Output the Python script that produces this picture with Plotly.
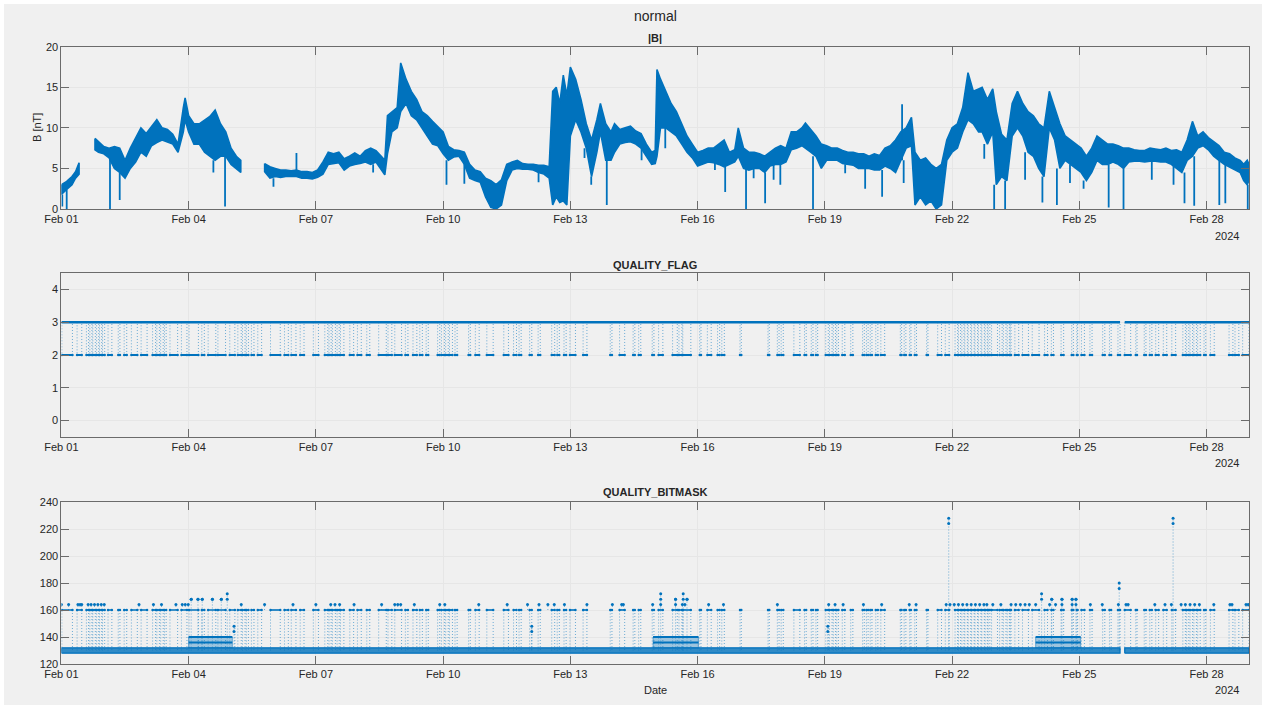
import plotly.graph_objects as go
import pandas as pd

BASE = pd.Timestamp("2024-02-01")

# ---------------- |B| (hours since 2024-02-01 00:00, envelope) -------------
b_hours = [0, 3, 6, 8, 10, 12,
           19, 21, 24, 27, 30, 33, 36, 39, 42, 45, 48, 51, 54, 57, 60, 63, 66, 69, 70, 72, 75, 78, 81, 84, 87, 90, 93, 96, 99, 101.5, 108,
           115, 118, 121, 124, 127, 130, 133, 136, 139, 142, 145, 148, 151, 154, 157, 160, 163, 166, 169, 172, 175, 178, 181, 183,
           184.5, 187, 190, 192, 195, 198, 201, 204, 207, 210, 213, 216, 219, 222, 225, 228, 231, 234, 237, 240, 243, 246, 249, 252, 255, 258, 261, 264, 267, 270, 273, 276,
           278, 280, 282, 284, 286, 288, 291, 294, 297, 300, 303, 305, 308, 311, 313, 316, 319, 322, 325, 328, 331, 334, 336,
           337, 339, 342, 345, 348, 351, 354, 357, 360, 363, 366, 369, 372, 375, 378, 381, 383, 386, 389, 392, 395, 398, 401, 404, 407, 410, 413, 416, 419, 421, 424, 427, 430, 433, 436, 439, 442, 445, 448, 451, 454, 457, 460, 463, 466, 469, 472, 475, 478, 481,
           483, 486, 489, 492, 495, 498, 501, 504, 507, 510, 513, 516, 519, 521, 524, 527, 529, 532, 535, 538, 541, 544, 547, 550, 553, 556, 559, 562, 565, 568, 571, 574, 577, 580, 583, 586, 589, 592, 595, 598, 601, 604, 607, 610, 613, 616, 619, 622, 625, 628, 631, 634, 637, 640, 643, 646, 649, 652, 655, 658, 661, 664, 667, 669, 671, 672]
b_high = [3.0, 3.4, 4.0, 4.6, 5.7, None,
          8.7, 8.3, 7.7, 7.5, 7.7, 7.5, 6.0, 7.5, 8.8, 10.0, 9.3, 10.2, 11.0, 10.0, 9.8, 9.2, 8.0, 12.5, 13.7, 11.5, 10.5, 10.5, 11.0, 11.4, 12.2, 10.5, 9.5, 7.5, 6.5, 6.0, None,
          5.6, 5.2, 5.0, 4.8, 4.8, 4.7, 4.8, 4.6, 4.6, 4.5, 4.8, 5.8, 7.0, 6.8, 7.0, 6.2, 6.5, 6.9, 6.5, 7.2, 7.5, 7.2, 6.5, 6.0,
          11.5, 12.0, 12.5, 18.0, 16.0, 14.5, 13.5, 12.0, 11.5, 10.8, 10.2, 9.5, 7.7, 7.3, 7.2, 7.0, 5.5, 4.8, 4.6, 3.8, 3.5, 3.0, 3.6, 5.5, 5.8, 6.0, 5.6, 5.5, 5.5, 5.4, 5.4, 5.2,
          14.5, 15.0, 13.0, 16.5, 14.0, 17.5, 16.0, 13.5, 10.5, 8.5, 11.0, 13.0, 10.5, 9.5, 10.5, 9.8, 10.0, 10.2, 9.6, 9.3, 8.0, 7.0, 7.2,
          17.2, 16.0, 14.5, 13.0, 12.0, 10.5, 9.0, 8.0, 7.0, 7.2, 7.5, 7.5, 8.0, 8.5, 7.0, 7.3, 10.0, 7.5, 7.0, 7.0, 6.8, 6.5, 7.0, 7.5, 7.8, 7.5, 9.5, 9.5, 10.0, 10.6, 9.8, 9.0, 8.0, 7.8, 7.5, 7.5, 7.2, 7.0, 7.0, 6.8, 6.8, 6.5, 6.8, 6.6, 7.5, 7.8, 8.5, 9.5, 10.0, 11.3,
          7.0, 6.0, 6.3, 5.5, 5.0, 5.5, 8.5, 10.0, 10.5, 12.5, 16.8, 14.5, 14.8, 15.0, 13.5, 14.8, 12.0, 9.2, 8.5, 13.0, 14.5, 13.0, 12.0, 11.5, 10.5, 10.0, 14.5, 12.5, 10.5, 9.0, 8.5, 8.0, 7.5, 6.5, 7.5, 9.0, 8.5, 8.0, 8.0, 7.8, 7.5, 7.5, 7.3, 7.2, 7.2, 7.5, 7.4, 7.3, 7.5, 7.2, 7.3, 7.0, 8.5, 10.8, 9.0, 9.5, 8.8, 8.3, 7.8, 7.0, 6.8, 6.3, 6.0, 5.5, 6.0, 5.5]
b_low = [1.8, 2.4, 3.0, 3.8, 4.3, None,
         7.3, 7.0, 6.8, 6.3, 5.0, 4.5, 3.8, 5.0, 5.8, 7.0, 6.5, 7.8, 8.2, 8.5, 8.3, 8.0, 7.0, 9.5, 11.0, 9.5, 8.0, 8.0, 7.0, 6.5, 6.0, 6.5, 6.5, 5.5, 5.0, 4.5, None,
         4.6, 3.8, 4.0, 3.9, 4.0, 4.0, 4.0, 3.8, 3.8, 3.7, 3.9, 4.3, 5.5, 5.6, 5.7, 4.8, 5.3, 5.5, 5.6, 5.8, 5.5, 5.8, 4.8, 4.2,
         6.8, 9.5, 10.0, 12.0, 13.0, 11.5, 11.0, 10.0, 9.0, 8.0, 7.8, 6.8, 6.0, 6.4, 6.5, 5.5, 3.8, 3.5, 3.3, 1.5, 0.2, 0.0, 0.5, 3.5, 4.8, 5.0, 4.9, 4.9, 4.8, 4.5, 4.3, 3.8,
         0.5, 1.5, 0.8, 1.0, 0.5, 9.0, 11.0, 9.5, 7.5, 4.0, 7.0, 9.5, 6.0, 6.0, 7.0, 8.0, 8.2, 8.3, 8.0, 7.5, 6.5, 5.5, 5.6,
         6.5, 10.0, 10.0, 9.5, 9.0, 8.0, 7.0, 6.3, 5.3, 5.5, 5.8, 5.7, 5.5, 5.2, 5.5, 5.8, 6.5, 5.0, 4.8, 5.0, 5.0, 4.5, 5.3, 5.5, 5.5, 5.8, 7.3, 7.5, 7.8, 7.5, 7.0, 6.5, 5.0, 6.0, 6.0, 6.0, 5.6, 5.5, 5.4, 5.0, 5.0, 5.0, 4.8, 4.8, 5.3, 5.0, 4.5, 6.0, 7.5, 7.8,
         0.5, 1.5, 0.5, 1.0, 0.0, 0.5, 6.0, 7.0, 7.5, 9.5, 11.0, 10.5, 9.5, 9.5, 8.0, 9.5, 3.0, 4.0, 3.5, 9.0, 10.0, 9.0, 7.0, 6.5, 5.0, 4.0, 10.0, 8.5, 5.0, 6.0, 5.5, 5.0, 4.5, 3.5, 4.5, 6.0, 5.5, 5.5, 5.8, 5.5, 5.0, 5.8, 5.9, 5.9, 5.8, 5.9, 5.9, 5.8, 5.8, 5.5, 5.0, 4.5, 6.0, 6.5, 7.5, 7.8, 7.3, 6.5, 6.0, 5.5, 5.2, 4.8, 4.5, 3.5, 3.0, 3.5]

# narrow excursions (dips / spikes) of |B|
spike_hours = [0.5, 3, 27.5, 33, 86, 92.6, 120, 133, 176.4, 217.9,
               228, 270, 296, 299.8, 308.6, 328.3, 341.7, 369.8, 375.6, 387.4,
               391.7, 398.2, 403, 406.8, 425.3, 443.5, 454.8, 464.4, 475.7, 476.6,
               522.2, 527.8, 534, 545.3, 555.1, 563.3, 570.7, 578.4, 592.6, 601,
               617, 629.3, 635.5, 641, 655.2, 658.6, 671.3]
spike_from = [1.8, 2.4, 6.3, 4.5, 6.0, 6.5, 3.8, 4.8, 5.5, 6.0,
              5.5, 4.5, 7.5, 4.0, 6.0, 7.5, 10.0, 5.7, 5.2, 5.0,
              5.0, 4.5, 5.5, 5.5, 6.5, 5.5, 5.0, 4.8, 6.0, 6.0,
              8.0, 3.0, 3.5, 7.0, 4.0, 5.0, 5.5, 3.5, 5.5, 5.0,
              5.9, 5.5, 4.5, 6.5, 6.0, 5.5, 3.0]
spike_to = [0.3, 0.0, 0.0, 1.1, 4.5, 0.3, 2.75, 6.9, 4.5, 3.0,
            3.1, 3.3, 6.3, 3.0, 0.5, 6.0, 7.5, 4.8, 2.1, 0.0,
            3.8, 0.7, 3.6, 3.0, 0.0, 4.4, 2.5, 1.5, 12.9, 3.2,
            6.2, 0.0, 0.0, 3.6, 0.8, 0.5, 3.2, 2.5, 0.2, 0.0,
            3.6, 3.0, 0.7, 0.4, 0.5, 0.7, 0.0]

# ---------------- QUALITY_FLAG (days since 2024-02-01) -------------
coverage_start = [0.0, 25.07]
coverage_end = [24.96, 28.0]
flag_normal = 3
flag_low = 2
flag2_start = [0.01, 0.37, 0.59, 0.67, 0.74, 0.83, 0.90, 0.97, 1.10, 1.34, 1.48, 1.65, 1.88,
               2.15, 2.25, 2.34, 2.43, 2.56, 2.83, 3.01, 3.31, 3.46, 3.69, 3.97, 4.16, 4.27, 4.36,
               4.48, 4.63, 4.93, 5.26, 5.42, 5.63, 5.94, 6.21, 6.31, 6.39, 6.50, 6.58, 6.80, 6.98,
               7.20, 7.48, 7.70, 7.86, 8.11, 8.29, 8.45, 8.60, 8.87, 8.96, 9.06, 9.15, 9.28, 9.60,
               9.76, 10.03, 10.43, 10.66, 10.79, 11.04, 11.24, 11.56, 11.69, 11.85, 11.99, 12.30,
               12.94, 13.16, 13.48, 13.61, 13.93, 14.08, 14.41, 14.56, 14.65, 15.05, 15.23, 15.47,
               15.57, 16.00, 16.66, 16.88, 16.97, 17.27, 17.52, 17.68, 17.79, 18.02, 18.11, 18.20,
               18.28, 18.41, 18.61, 18.89, 18.98, 19.07, 19.20, 19.32, 19.78, 19.87, 20.00, 20.12,
               20.40, 20.66, 20.84, 21.07, 21.15, 21.23, 21.30, 21.38, 21.46, 21.54, 21.62, 21.70,
               21.78, 21.85, 21.93, 22.12, 22.21, 22.30, 22.37, 22.48, 22.66, 22.89, 23.18, 23.34,
               23.57, 23.82, 23.94, 24.05, 24.25, 24.55, 24.71, 24.91, 25.07, 25.33, 25.53, 25.66,
               25.80, 25.98, 26.18, 26.44, 26.53, 26.61, 26.70, 26.79, 26.94, 27.09, 27.53, 27.67,
               27.85]
flag2_end = [0.26, 0.48, 0.64, 0.72, 0.80, 0.88, 0.95, 1.02, 1.19, 1.38, 1.54, 1.79, 2.02,
             2.22, 2.31, 2.40, 2.47, 2.74, 2.96, 3.23, 3.37, 3.64, 3.87, 4.09, 4.24, 4.33, 4.41,
             4.54, 4.72, 5.16, 5.35, 5.53, 5.72, 6.06, 6.28, 6.36, 6.46, 6.55, 6.66, 6.89, 7.07,
             7.27, 7.66, 7.79, 8.02, 8.17, 8.38, 8.51, 8.65, 8.92, 9.03, 9.12, 9.22, 9.33, 9.64,
             9.85, 10.18, 10.54, 10.73, 10.84, 11.09, 11.29, 11.63, 11.74, 11.90, 12.12, 12.39,
             12.98, 13.28, 13.52, 13.66, 13.97, 14.18, 14.52, 14.63, 14.84, 15.08, 15.32, 15.52,
             15.63, 16.03, 16.69, 16.92, 17.02, 17.41, 17.56, 17.72, 17.83, 18.08, 18.17, 18.25,
             18.32, 18.47, 18.66, 18.93, 19.02, 19.11, 19.25, 19.41, 19.81, 19.91, 20.03, 20.16,
             20.43, 20.75, 20.93, 21.13, 21.20, 21.28, 21.36, 21.44, 21.52, 21.60, 21.68, 21.76,
             21.83, 21.89, 22.07, 22.18, 22.27, 22.35, 22.39, 22.57, 22.80, 23.05, 23.25, 23.39,
             23.63, 23.86, 23.96, 24.12, 24.30, 24.60, 24.75, 24.96, 25.21, 25.36, 25.57, 25.71,
             25.87, 26.06, 26.27, 26.50, 26.58, 26.67, 26.76, 26.85, 26.98, 27.18, 27.62, 27.76,
             28.00]

# ---------------- QUALITY_BITMASK -------------
bm_base_low = 128
bm_base_high = 132
bm_raised_start = [3.0, 13.95, 22.97]
bm_raised_end = [4.03, 15.02, 24.03]
bm_raised_mid = 136
bm_raised_top = 140
bm_flag_value = 160
bm_164_value = 164
bm164_days = [0.0, 0.17, 0.39, 0.44, 0.48, 0.63, 0.70, 0.78, 0.86, 0.94, 1.01, 1.83, 2.17, 2.36,
              2.70, 2.85, 2.92, 2.99, 4.24, 4.79, 5.46, 6.00, 6.35, 6.45, 6.56, 6.90, 7.55, 7.86,
              7.93, 8.00, 8.32, 8.92, 9.04, 9.84, 10.51, 10.99, 11.26, 11.47, 11.62, 11.86, 12.39,
              12.99, 13.21, 13.25, 13.94, 14.13, 14.48, 14.64, 14.70, 15.26, 15.61, 16.88, 18.09,
              18.24, 18.43, 18.91, 19.34, 19.99, 20.15, 20.86, 20.95, 21.05, 21.15, 21.25, 21.35,
              21.45, 21.55, 21.65, 21.75, 21.82, 21.96, 22.15, 22.39, 22.50, 22.61, 22.72, 22.82,
              22.97, 23.30, 23.44, 23.59, 23.83, 23.92, 24.26, 24.54, 24.92, 25.10, 25.15, 25.78,
              26.02, 26.17, 26.40, 26.50, 26.61, 26.72, 26.83, 27.17, 27.55, 27.60, 27.93, 27.98]
bm_spike_days = [3.06, 3.22, 3.32, 3.56, 3.77, 3.91, 4.07, 11.09, 14.13, 14.48, 14.66,
                 14.75, 18.07, 20.92, 23.11, 23.35, 23.59, 23.83, 23.92, 24.94, 26.21]
bm_spike_low = [168, 168, 168, 168, 168, 168, 144, 144, 168, 168, 168,
                168, 144, 224, 168, 168, 168, 168, 168, 176, 224]
bm_spike_high = [168, 168, 168, 168, 168, 172, 148, 148, 172, 168, 172,
                 168, 148, 228, 172, 168, 168, 168, 168, 180, 228]

tick_days = [0, 3, 6, 9, 12, 15, 18, 21, 24, 27]
tick_labels = ["Feb 01", "Feb 04", "Feb 07", "Feb 10", "Feb 13",
               "Feb 16", "Feb 19", "Feb 22", "Feb 25", "Feb 28"]
x_range_days = [0, 28]

# ---------------- helpers -------------
BLUE = "#0072BD"
DOT_BLUE = "rgba(0,114,189,0.55)"
FONT = "Liberation Sans, Arial, Helvetica, sans-serif"


def hx(h):
    return None if h is None else (BASE + pd.Timedelta(hours=h)).isoformat()


def dx(d):
    return None if d is None else (BASE + pd.Timedelta(days=d)).isoformat()


fig = go.Figure()

# ---- panel 1 : |B| band, built segment by segment from the envelope arrays
seg_h, seg_hi, seg_lo = [], [], []
segments = []
for h, hi, lo in zip(b_hours, b_high, b_low):
    if hi is None:
        if seg_h:
            segments.append((seg_h, seg_hi, seg_lo))
        seg_h, seg_hi, seg_lo = [], [], []
    else:
        seg_h.append(h); seg_hi.append(hi); seg_lo.append(lo)
if seg_h:
    segments.append((seg_h, seg_hi, seg_lo))

for sh, shi, slo in segments:
    xs = [hx(h) for h in sh] + [hx(h) for h in reversed(sh)] + [hx(sh[0])]
    ys = shi + list(reversed(slo)) + [shi[0]]
    fig.add_trace(go.Scatter(x=xs, y=ys, mode="lines", fill="toself", fillcolor=BLUE,
                             line=dict(color=BLUE, width=1.6), hoverinfo="skip",
                             showlegend=False, xaxis="x", yaxis="y"))

sx, sy = [], []
for h, a, b in zip(spike_hours, spike_from, spike_to):
    sx += [hx(h), hx(h), None]
    sy += [a, b, None]
fig.add_trace(go.Scatter(x=sx, y=sy, mode="lines", line=dict(color=BLUE, width=1.8),
                         showlegend=False, xaxis="x", yaxis="y"))

# ---- panel 2 : QUALITY_FLAG
vx, vy = [], []
for s, e in zip(flag2_start, flag2_end):
    vx += [dx(s), dx(s), None, dx(e), dx(e), None]
    vy += [flag_normal, flag_low, None, flag_low, flag_normal, None]
fig.add_trace(go.Scatter(x=vx, y=vy, mode="lines",
                         line=dict(color=DOT_BLUE, width=1, dash="1px,2px"),
                         showlegend=False, xaxis="x2", yaxis="y2"))
cx, cy = [], []
for s, e in zip(coverage_start, coverage_end):
    cx += [dx(s), dx(e), None]
    cy += [flag_normal, flag_normal, None]
fig.add_trace(go.Scatter(x=cx, y=cy, mode="lines", line=dict(color=BLUE, width=2.6),
                         showlegend=False, xaxis="x2", yaxis="y2"))
lx, ly = [], []
for s, e in zip(flag2_start, flag2_end):
    lx += [dx(s), dx(e), None]
    ly += [flag_low, flag_low, None]
fig.add_trace(go.Scatter(x=lx, y=ly, mode="lines+markers", line=dict(color=BLUE, width=2),
                         marker=dict(color=BLUE, size=2.5), showlegend=False,
                         xaxis="x2", yaxis="y2"))

# ---- panel 3 : QUALITY_BITMASK
bm_mid = (bm_base_low + bm_base_high) / 2
vx, vy = [], []
for s, e in zip(flag2_start, flag2_end):
    vx += [dx(s), dx(s), None, dx(e), dx(e), None]
    vy += [bm_mid, bm_flag_value, None, bm_flag_value, bm_mid, None]
for d in bm164_days:
    vx += [dx(d), dx(d), None]
    vy += [bm_flag_value, bm_164_value, None]
for d, hi in zip(bm_spike_days, bm_spike_high):
    vx += [dx(d), dx(d), None]
    vy += [bm_mid, hi, None]
fig.add_trace(go.Scatter(x=vx, y=vy, mode="lines",
                         line=dict(color=DOT_BLUE, width=1, dash="1px,2px"),
                         showlegend=False, xaxis="x3", yaxis="y3"))

for s, e in zip(coverage_start, coverage_end):
    fig.add_trace(go.Scatter(
        x=[dx(s), dx(e), dx(e), dx(s), dx(s)],
        y=[bm_base_low, bm_base_low, bm_base_high, bm_base_high, bm_base_low],
        mode="lines", fill="toself", fillcolor="rgba(0,114,189,0.8)",
        line=dict(color=BLUE, width=1.2), showlegend=False, xaxis="x3", yaxis="y3"))
for s, e in zip(bm_raised_start, bm_raised_end):
    fig.add_trace(go.Scatter(
        x=[dx(s), dx(e), dx(e), dx(s), dx(s)],
        y=[bm_base_high, bm_base_high, bm_raised_top, bm_raised_top, bm_base_high],
        mode="lines", fill="toself", fillcolor="rgba(0,114,189,0.35)",
        line=dict(color="rgba(0,114,189,0.5)", width=1), showlegend=False,
        xaxis="x3", yaxis="y3"))
    fig.add_trace(go.Scatter(
        x=[dx(s), dx(e), None, dx(s), dx(e)],
        y=[bm_raised_top, bm_raised_top, None, bm_raised_mid, bm_raised_mid],
        mode="lines", line=dict(color=BLUE, width=2), showlegend=False,
        xaxis="x3", yaxis="y3"))

lx, ly = [], []
for s, e in zip(flag2_start, flag2_end):
    lx += [dx(s), dx(e), None]
    ly += [bm_flag_value, bm_flag_value, None]
fig.add_trace(go.Scatter(x=lx, y=ly, mode="lines+markers", line=dict(color=BLUE, width=1.6),
                         marker=dict(color=BLUE, size=2.5), showlegend=False,
                         xaxis="x3", yaxis="y3"))
mx = [dx(d) for d in bm164_days]
my = [bm_164_value for _ in bm164_days]
for d, lo, hi in zip(bm_spike_days, bm_spike_low, bm_spike_high):
    mx += [dx(d), dx(d)]
    my += [lo, hi]
fig.add_trace(go.Scatter(x=mx, y=my, mode="markers", marker=dict(color=BLUE, size=3),
                         showlegend=False, xaxis="x3", yaxis="y3"))

# ---------------- layout -------------
W, H = 1266, 709
X0, X1 = 61.4, 1249
panels = [(46.7, 209.0), (273.3, 436.7), (502.0, 664.0)]


def py(p):
    return 1 - p / H


xdom = [X0 / W, X1 / W]
tickvals = [dx(d) for d in tick_days]
xrange_ = [dx(x_range_days[0]), dx(x_range_days[1])]

axis_common = dict(showline=True, linecolor="#6b6b6b", linewidth=1, mirror="ticks",
                   ticks="inside", ticklen=8, tickcolor="#6b6b6b", tickwidth=1,
                   showgrid=True, gridcolor="#e6e6e6", gridwidth=1, zeroline=False,
                   tickfont=dict(family=FONT, size=11, color="#262626"), automargin=False)

layout = dict(
    width=W, height=H, margin=dict(l=0, r=0, t=0, b=0),
    paper_bgcolor="white", plot_bgcolor="white", showlegend=False,
    font=dict(family=FONT, size=11, color="#262626"),
)
yaxes = [dict(range=[0, 20], tickvals=[0, 5, 10, 15, 20]),
         dict(range=[-0.5, 4.5], tickvals=[0, 1, 2, 3, 4]),
         dict(range=[120, 240], tickvals=[120, 140, 160, 180, 200, 220, 240])]
for i, ((top, bot), ya) in enumerate(zip(panels, yaxes)):
    suf = "" if i == 0 else str(i + 1)
    layout["xaxis" + suf] = dict(axis_common, type="date", domain=xdom, range=xrange_,
                                 tickvals=tickvals, ticktext=tick_labels,
                                 anchor="y" + suf)
    layout["yaxis" + suf] = dict(axis_common, domain=[py(bot), py(top)],
                                 anchor="x" + suf, **ya)

fig.update_layout(**layout)

shapes = [dict(type="rect", xref="paper", yref="paper", x0=4 / W, x1=1262 / W,
               y0=py(705), y1=py(4), fillcolor="#f0f0f0", line=dict(width=0), layer="below")]
fig.update_layout(shapes=shapes)

xc = (X0 + X1) / 2 / W
ann = [
    dict(text="normal", x=xc, y=py(16), font=dict(size=14)),
    dict(text="<b>|B|</b>", x=xc, y=py(38), font=dict(size=11)),
    dict(text="<b>QUALITY_FLAG</b>", x=xc, y=py(265), font=dict(size=11)),
    dict(text="<b>QUALITY_BITMASK</b>", x=xc, y=py(492), font=dict(size=11)),
    dict(text="B [nT]", x=37 / W, y=py(128), textangle=-90, font=dict(size=11)),
    dict(text="Date", x=xc, y=py(690), font=dict(size=11)),
    dict(text="2024", x=1241 / W, y=py(236), xanchor="right", font=dict(size=11)),
    dict(text="2024", x=1241 / W, y=py(463), xanchor="right", font=dict(size=11)),
    dict(text="2024", x=1241 / W, y=py(690), xanchor="right", font=dict(size=11)),
]
for a in ann:
    a.setdefault("xanchor", "center")
    a.update(xref="paper", yref="paper", yanchor="middle", showarrow=False)
    a["font"] = dict(family=FONT, color="#262626", **a["font"])
fig.update_layout(annotations=ann)

fig.write_html("out.html", config={"displayModeBar": False},
               post_script="document.body.style.margin='0px';document.body.style.overflow='hidden';")
